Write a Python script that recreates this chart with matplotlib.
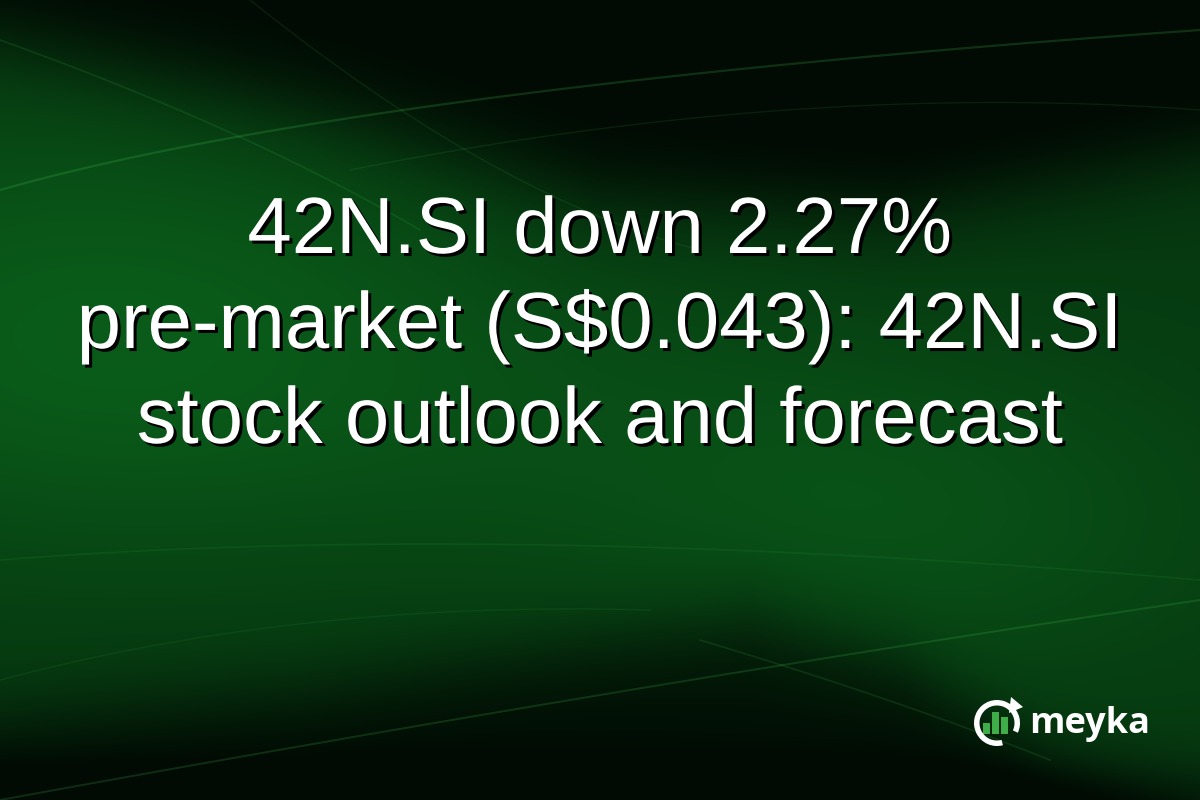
import numpy as np
import matplotlib
matplotlib.use('Agg')
import matplotlib.pyplot as plt
import matplotlib.patheffects as pe
from matplotlib.patches import Wedge, Rectangle, Polygon

# text of the card
title_lines = ['42N.SI down 2.27%', 'pre-market (S$0.043): 42N.SI', 'stock outlook and forecast']
brand = 'meyka'
logo_bars = [0.45, 0.9, 0.7]   # relative bar heights in the logo

W, H = 1200, 800
fig = plt.figure(figsize=(12, 8), dpi=100)
ax = fig.add_axes([0, 0, 1, 1])
ax.set_xlim(0, W)
ax.set_ylim(H, 0)
ax.axis('off')

# background: dark green with soft glows and dark swoosh lobes
X, Y = np.meshgrid(np.arange(W), np.arange(H))


def blob(cx, cy, sx, sy):
    return np.exp(-((X - cx) ** 2 / (2 * sx ** 2) + (Y - cy) ** 2 / (2 * sy ** 2)))


def soft(d, w):
    return 1 / (1 + np.exp(-d / w))


L = 0.58
L = L + 0.40 * blob(80, 330, 300, 160)
L = L + 0.25 * blob(900, 520, 250, 120)
L = L + 0.10 * blob(550, 400, 300, 120)

# upper dark lobe
top_x = [0, 300, 600, 900, 1200]
top_y = [40, 110, 200, 210, 150]
L = L - 0.65 * soft(np.interp(X, top_x, top_y) - Y, 28)
# lower dark lobe
bot_x = [0, 300, 600, 750, 900, 1050, 1200]
bot_y = [720, 690, 640, 615, 660, 760, 820]
L = L - 0.55 * soft(Y - np.interp(X, bot_x, bot_y), 25)
L = L - 0.25 * soft(Y - 770, 15)
L = np.clip(L, 0, 1)

dark = np.array([1, 10, 3]) / 255
bright = np.array([10, 92, 26]) / 255
img = dark + L[..., None] * (bright - dark)
ax.imshow(img, extent=[0, W, H, 0], aspect='auto', interpolation='bilinear', zorder=0)


def bez(p0, p1, p2, n=200):
    t = np.linspace(0, 1, n)[:, None]
    pts = (1 - t) ** 2 * np.array(p0) + 2 * (1 - t) * t * np.array(p1) + t ** 2 * np.array(p2)
    return pts[:, 0], pts[:, 1]


# thin light swoosh lines
swooshes = [
    ((0, 190), (350, 90), (1200, 30), 1.6, 0.22),
    ((0, 40), (250, 130), (420, 230), 1.2, 0.15),
    ((250, 0), (500, 200), (700, 250), 1.0, 0.12),
    ((350, 170), (800, 80), (1200, 110), 1.0, 0.12),
    ((0, 560), (500, 520), (1200, 580), 1.2, 0.1),
    ((0, 800), (600, 690), (1200, 600), 1.4, 0.2),
    ((700, 640), (900, 700), (1050, 760), 1.2, 0.15),
    ((0, 680), (300, 600), (650, 610), 1.0, 0.1),
]
for p0, p1, p2, lw, a in swooshes:
    sx, sy = bez(p0, p1, p2)
    ax.plot(sx, sy, color='#3fbf50', lw=lw, alpha=a, zorder=1)

# title with drop shadow
shadow = [pe.withSimplePatchShadow(offset=(2.2, -2.2), shadow_rgbFace='black', alpha=1.0)]
baselines = [253, 348, 443]
for line, yb in zip(title_lines, baselines):
    ax.text(W / 2, yb, line, ha='center', va='baseline', color='white',
            fontsize=57.4, family='Liberation Sans', path_effects=shadow, zorder=3)

# logo: ring with gap and arrow, green bars
cx, cy, r = 997, 723, 23
ax.add_patch(Wedge((cx, cy), r, 75, 385, width=5.5, facecolor='white', zorder=3))
ax.add_patch(Polygon([[1011, 697], [1023, 707], [1009, 713]], closed=True,
                     facecolor='white', zorder=3))
bar_x = [983, 992, 1001]
for bx, h in zip(bar_x, logo_bars):
    ax.add_patch(Rectangle((bx, 734 - 25 * h), 7, 25 * h, facecolor='#3fae49', zorder=2))
ax.text(1029, 733, brand, ha='left', va='baseline', color='white', fontsize=26,
        family='Open Sans', fontweight='bold', zorder=3)

fig.savefig('out.png', dpi=100)
